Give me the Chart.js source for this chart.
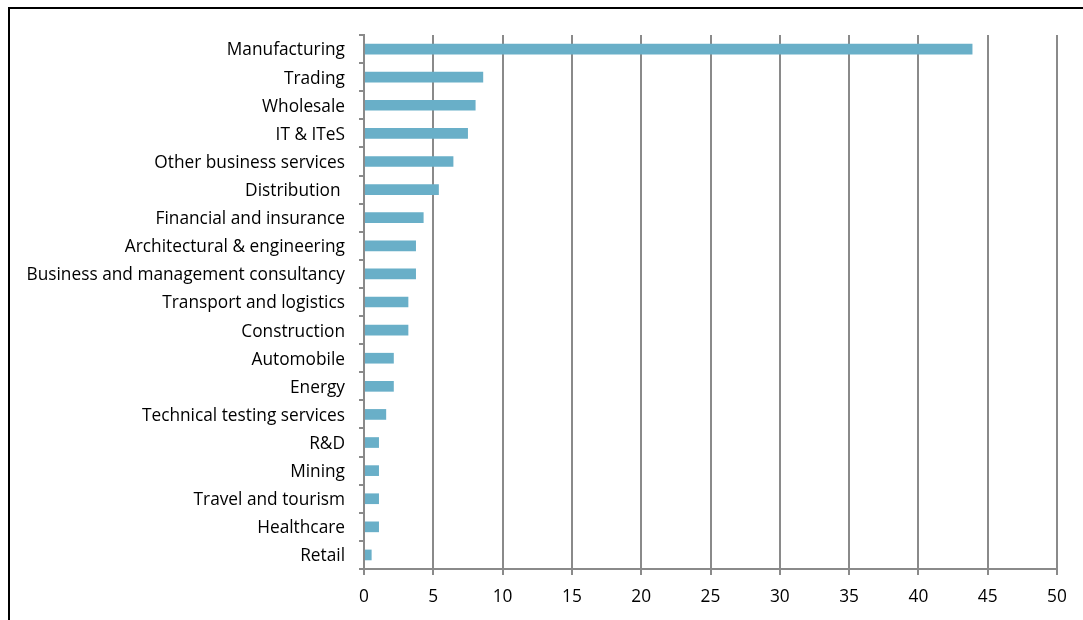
<!DOCTYPE html>
<html>
<head>
<meta charset="utf-8">
<script src="https://cdn.jsdelivr.net/npm/chart.js@4"></script>
<style>
    html, body { margin: 0; padding: 0; background: #fff; overflow: hidden; }
    #wrap { position: relative; width: 1083px; height: 620px; }
    #frame {
        position: absolute; left: 8px; top: 7px; width: 1200px; height: 800px;
        border-left: 2px solid #000; border-top: 2px solid #000;
    }
    canvas { position: absolute; left: 0; top: 0; }
</style>
</head>
<body>
<div id="wrap">
    <div id="frame"></div>
    <canvas id="chart" width="1083" height="620"></canvas>
</div>
<script>
// Sectors, top to bottom
const sectors = [
    "Manufacturing", "Trading", "Wholesale", "IT & ITeS", "Other business services",
    "Distribution ", "Financial and insurance", "Architectural & engineering",
    "Business and management consultancy", "Transport and logistics", "Construction",
    "Automobile", "Energy", "Technical testing services", "R&D", "Mining",
    "Travel and tourism", "Healthcare", "Retail"
];

// Share of companies per sector (%)
const shares = [
    43.9, 8.6, 8.05, 7.5, 6.45,
    5.4, 4.3, 3.75,
    3.75, 3.2, 3.2,
    2.15, 2.15, 1.6, 1.08, 1.08,
    1.08, 1.08, 0.55
];

const xTicks = [0, 5, 10, 15, 20, 25, 30, 35, 40, 45, 50];

const axisGray = "#8a8a8a";
const font = { family: "'Open Sans', 'Noto Sans', sans-serif", size: 17.3 };

const ctx = document.getElementById("chart").getContext("2d");
new Chart(ctx, {
    type: "bar",
    data: {
        labels: sectors,
        datasets: [{
            data: shares,
            backgroundColor: "#69afc8",
            borderWidth: 0,
            categoryPercentage: 1,
            barPercentage: 0.38
        }]
    },
    options: {
        indexAxis: "y",
        responsive: false,
        animation: false,
        layout: { padding: { top: 35, right: 26, left: 0, bottom: 0 } },
        plugins: { legend: { display: false }, tooltip: { enabled: false } },
        scales: {
            x: {
                min: 0,
                max: 50,
                afterBuildTicks: scale => { scale.ticks = xTicks.map(v => ({ value: v })); },
                afterFit: scale => { scale.height = 51; },
                grid: { color: axisGray, lineWidth: 2, tickLength: 6 },
                border: { color: axisGray, width: 2 },
                ticks: { color: "#000", font: font, padding: 12, maxRotation: 0 }
            },
            y: {
                afterFit: scale => { scale.width = 364; },
                grid: { drawOnChartArea: false, color: axisGray, lineWidth: 2, tickLength: 5 },
                border: { color: axisGray, width: 2 },
                ticks: { color: "#000", font: font, padding: 14, autoSkip: false, labelOffset: 1.5 }
            }
        }
    }
});
</script>
</body>
</html>
